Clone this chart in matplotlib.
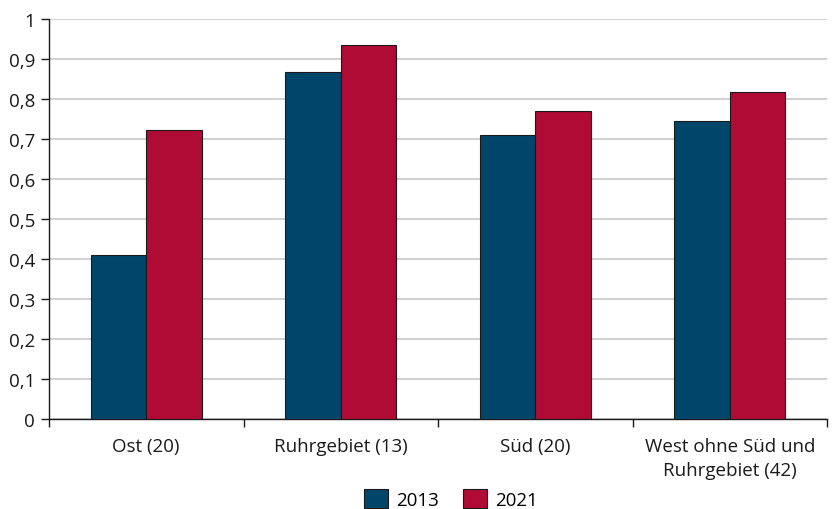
import matplotlib.pyplot as plt
import numpy as np
from matplotlib.patches import Patch

categories = ["Ost (20)", "Ruhrgebiet (13)", "Süd (20)", "West ohne Süd und\nRuhrgebiet (42)"]
values_2013 = [0.41, 0.868, 0.71, 0.745]
values_2021 = [0.723, 0.935, 0.77, 0.818]
series_labels = ["2013", "2021"]
yticks = [0, 0.1, 0.2, 0.3, 0.4, 0.5, 0.6, 0.7, 0.8, 0.9, 1.0]

plt.rcParams['font.family'] = ['Open Sans', 'DejaVu Sans']

blue = "#00466a"
red = "#b00b34"
ink = "#1a1a1a"
fs = 13.5

fig = plt.figure(figsize=(8.34, 5.10), dpi=100)
ax = fig.add_axes([49/834, 1 - 420/510, (827 - 49)/834, 400/510])

x = np.arange(len(categories))
w = 0.285
ax.bar(x - w/2, values_2013, w, color=blue, edgecolor=ink, linewidth=0.8, zorder=3)
ax.bar(x + w/2, values_2021, w, color=red, edgecolor=ink, linewidth=0.8, zorder=3)

ax.set_xlim(-0.5, len(categories) - 0.5)
ax.set_ylim(0, 1)
ax.set_yticks(yticks)
ax.set_yticklabels([("%g" % v).replace(".", ",") for v in yticks], fontsize=fs, color=ink)
ax.yaxis.grid(True, color="#c8c8c8", linewidth=1.2, zorder=0)
ax.set_axisbelow(True)

ax.set_xticks(np.arange(len(categories) + 1) - 0.5)
ax.set_xticklabels([])
ax.set_xticks(x, minor=True)
ax.set_xticklabels(categories, minor=True, fontsize=fs, color=ink, linespacing=1.45)
ax.tick_params(axis="x", which="minor", length=0, pad=13)
ax.tick_params(axis="x", which="major", length=6, width=1, color=ink)
ax.tick_params(axis="y", length=6, width=1, color=ink, pad=4)

for s in ["top", "right"]:
    ax.spines[s].set_visible(False)
for s in ["left", "bottom"]:
    ax.spines[s].set_color(ink)
    ax.spines[s].set_linewidth(1)

handles = [Patch(facecolor=blue, edgecolor=ink, linewidth=0.8),
           Patch(facecolor=red, edgecolor=ink, linewidth=0.8)]
fig.legend(handles, series_labels, loc="center", bbox_to_anchor=(451/834, 1 - 500/510),
           ncol=2, frameon=False, fontsize=fs, handlelength=1.28, handleheight=1.2,
           columnspacing=1.3, handletextpad=0.45, borderpad=0)

fig.savefig("out.png", dpi=100)
